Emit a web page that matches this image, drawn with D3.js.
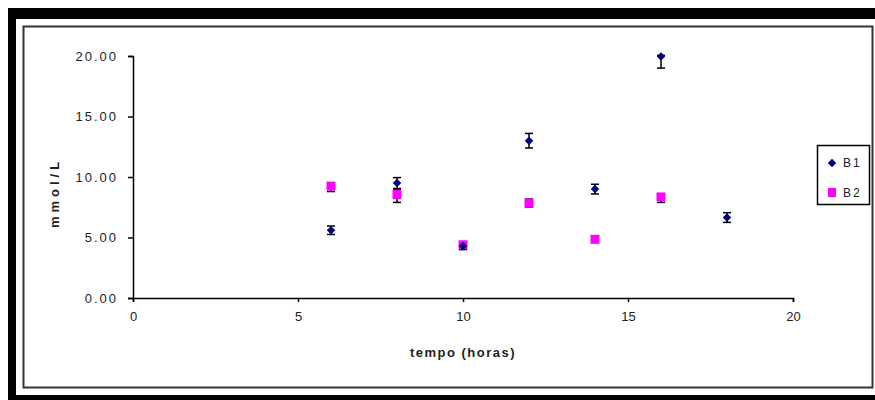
<!DOCTYPE html>
<html lang="pt">
  <head>
    <meta charset="UTF-8" />
    <title>mmol/L vs tempo</title>
    <script src="https://cdn.jsdelivr.net/npm/d3@7"></script>
    <style>
      body {
        margin: 0;
        padding: 0;
        background: #fff;
      }
      text {
        font-family: 'Liberation Sans', Arial, sans-serif;
      }
    </style>
  </head>

  <body>
    <svg width="875" height="400"></svg>

    <script>
      // dados
      var tempo = [6, 8, 10, 12, 14, 16, 18]
      var b1 = [5.6, 9.5, 4.3, 13.0, 9.0, 19.95, 6.65]
      var b1ErrLo = [0.35, 0.45, 0.3, 0.6, 0.4, 0.95, 0.4]
      var b1ErrHi = [0.35, 0.45, 0.1, 0.6, 0.4, 0.1, 0.4]
      var tempoB2 = [6, 8, 10, 12, 14, 16]
      var b2 = [9.25, 8.55, 4.4, 7.85, 4.85, 8.35]
      var b2ErrLo = [0.45, 0.65, 0.2, 0.33, 0.1, 0.45]
      var b2ErrHi = [0.2, 0.45, 0.2, 0.33, 0.1, 0.2]
      var xTicks = [0, 5, 10, 15, 20]
      var yTicks = [0, 5, 10, 15, 20]
      var seriesNames = ['B1', 'B2']

      var svg = d3.select('svg')

      // moldura preta (borda da imagem)
      svg.append('rect').attr('x', 8).attr('y', 8).attr('width', 867).attr('height', 11).attr('fill', '#000')
      svg.append('rect').attr('x', 8).attr('y', 8).attr('width', 8).attr('height', 392).attr('fill', '#000')
      svg.append('rect').attr('x', 8).attr('y', 395).attr('width', 867).attr('height', 5).attr('fill', '#000')

      // area do grafico
      svg.append('rect')
        .attr('x', 23.5).attr('y', 26.5)
        .attr('width', 849).attr('height', 361)
        .attr('fill', '#fff')
        .attr('stroke', '#333')
        .attr('stroke-width', 2)

      var plot = { left: 133, right: 793, top: 56, bottom: 298 }

      var xScale = d3.scaleLinear().domain([0, 20]).range([plot.left, plot.right])
      var yScale = d3.scaleLinear().domain([0, 20]).range([plot.bottom, plot.top])

      var xAxis = d3.axisBottom(xScale).tickValues(xTicks).tickSize(4).tickPadding(10)
        .tickFormat(d3.format('d'))
      var yAxis = d3.axisLeft(yScale).tickValues(yTicks).tickSize(5).tickPadding(10)
        .tickFormat(d3.format('.2f'))

      var gx = svg.append('g').attr('transform', `translate(0, ${plot.bottom})`).call(xAxis)
      var gy = svg.append('g').attr('transform', `translate(${plot.left}, 0)`).call(yAxis)

      ;[gx, gy].forEach(function (g) {
        g.select('.domain').attr('stroke', '#000').attr('stroke-width', 1.5)
        g.selectAll('.tick line').attr('stroke', '#000').attr('stroke-width', 1.5)
        g.selectAll('.tick text').attr('fill', '#222').attr('font-size', 13)
          .attr('font-family', "'Liberation Sans', Arial, sans-serif")
      })
      gy.selectAll('.tick text').attr('letter-spacing', 2)

      // titulos dos eixos
      svg.append('text')
        .attr('x', (plot.left + plot.right) / 2).attr('y', 357)
        .attr('text-anchor', 'middle')
        .attr('font-size', 13).attr('font-weight', 'bold').attr('fill', '#222')
        .attr('letter-spacing', 1.5)
        .text('tempo (horas)')

      svg.append('text')
        .attr('transform', 'translate(59, 193) rotate(-90)')
        .attr('text-anchor', 'middle')
        .attr('font-size', 13).attr('font-weight', 'bold').attr('fill', '#222')
        .attr('letter-spacing', 4)
        .text('mmol/L')

      // barras de erro
      function errorBars(xs, ys, lo, hi) {
        var g = svg.append('g').attr('stroke', '#000').attr('stroke-width', 1.5)
        xs.forEach(function (x, i) {
          var cx = xScale(x)
          var y0 = yScale(ys[i] - lo[i]), y1 = yScale(ys[i] + hi[i])
          g.append('line').attr('x1', cx).attr('x2', cx).attr('y1', y0).attr('y2', y1)
          g.append('line').attr('x1', cx - 4).attr('x2', cx + 4).attr('y1', y0).attr('y2', y0)
          g.append('line').attr('x1', cx - 4).attr('x2', cx + 4).attr('y1', y1).attr('y2', y1)
        })
      }
      errorBars(tempo, b1, b1ErrLo, b1ErrHi)
      errorBars(tempoB2, b2, b2ErrLo, b2ErrHi)

      var diamond = d3.symbol().type(d3.symbolDiamond2).size(46)

      svg.append('g').selectAll('rect').data(tempoB2).enter().append('rect')
        .attr('x', (d) => xScale(d) - 4.5)
        .attr('y', (d, i) => yScale(b2[i]) - 4.5)
        .attr('width', 9).attr('height', 9)
        .attr('fill', '#ff00ff')

      svg.append('g').selectAll('path').data(tempo).enter().append('path')
        .attr('d', diamond)
        .attr('transform', (d, i) => `translate(${xScale(d)}, ${yScale(b1[i])})`)
        .attr('fill', '#000080')

      // legenda
      var lg = svg.append('g')
      lg.append('rect')
        .attr('x', 817.5).attr('y', 145.5).attr('width', 52).attr('height', 59)
        .attr('fill', '#fff').attr('stroke', '#000').attr('stroke-width', 1.5)
      lg.append('path').attr('d', diamond)
        .attr('transform', 'translate(832, 163)').attr('fill', '#000080')
      lg.append('rect').attr('x', 828).attr('y', 188).attr('width', 8).attr('height', 9).attr('fill', '#ff00ff')
      lg.selectAll('text.lbl').data(seriesNames).enter().append('text')
        .attr('class', 'lbl')
        .attr('x', 843)
        .attr('y', (d, i) => 167 + i * 30)
        .attr('font-size', 12).attr('fill', '#222')
        .attr('letter-spacing', 2)
        .text((d) => d)
    </script>
  </body>
</html>
